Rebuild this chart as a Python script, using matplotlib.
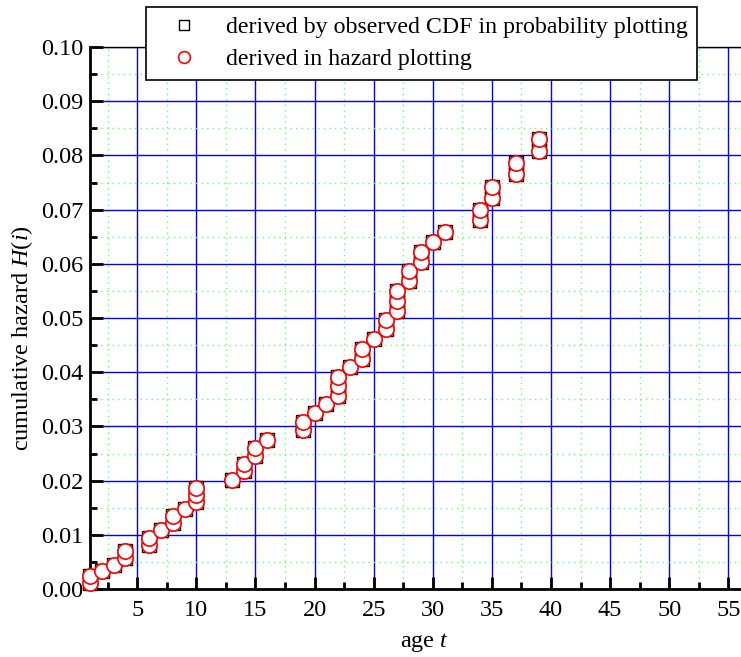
import matplotlib
matplotlib.use("Agg")
import matplotlib.pyplot as plt
from matplotlib.ticker import MultipleLocator, FormatStrFormatter

# age at failure (repeated ages = several failures at the same age)
age = [1, 1, 2, 3, 4, 4, 6, 6, 7, 8, 8, 9, 10, 10, 10, 13, 14, 14, 15, 15, 16,
       19, 19, 20, 21, 22, 22, 22, 23, 24, 24, 25, 26, 26, 27, 27, 27, 28, 28,
       29, 29, 30, 31, 34, 34, 35, 35, 37, 37, 39, 39]

# cumulative hazard from the observed CDF (probability plotting)
H_cdf = [0.0011, 0.0024, 0.0034, 0.0045, 0.0058, 0.0071, 0.0082, 0.0095,
         0.0108, 0.0121, 0.0135, 0.0148, 0.0160, 0.0173, 0.0187, 0.0202,
         0.0217, 0.0231, 0.0245, 0.0261, 0.0275, 0.0293, 0.0308, 0.0324,
         0.0341, 0.0357, 0.0374, 0.0392, 0.0409, 0.0425, 0.0443, 0.0461,
         0.0479, 0.0496, 0.0513, 0.0531, 0.0550, 0.0568, 0.0586, 0.0604,
         0.0622, 0.0641, 0.0659, 0.0681, 0.0700, 0.0721, 0.0741, 0.0765,
         0.0786, 0.0809, 0.0830]

# cumulative hazard from hazard plotting
H_haz = [0.0011, 0.0024, 0.0034, 0.0045, 0.0058, 0.0071, 0.0082, 0.0095,
         0.0108, 0.0121, 0.0135, 0.0148, 0.0160, 0.0173, 0.0187, 0.0202,
         0.0217, 0.0231, 0.0245, 0.0261, 0.0275, 0.0293, 0.0308, 0.0324,
         0.0341, 0.0357, 0.0374, 0.0392, 0.0409, 0.0425, 0.0443, 0.0461,
         0.0479, 0.0496, 0.0513, 0.0531, 0.0550, 0.0568, 0.0586, 0.0604,
         0.0622, 0.0641, 0.0659, 0.0681, 0.0700, 0.0721, 0.0741, 0.0765,
         0.0786, 0.0809, 0.0830]

label_cdf = "derived by observed CDF in probability plotting"
label_haz = "derived in hazard plotting"

plt.rcParams["font.family"] = ["Liberation Serif", "DejaVu Serif"]
plt.rcParams["mathtext.fontset"] = "custom"
plt.rcParams["mathtext.it"] = "Liberation Serif:italic"
plt.rcParams["mathtext.rm"] = "Liberation Serif"

W, H = 741, 657
fig = plt.figure(figsize=(W / 100, H / 100), dpi=100)

x0, x1 = 1.0, 56.6
px_per_unit = 11.82
left_px, bottom_px, top_px = 90, 589, 47
width_px = (x1 - x0) * px_per_unit
height_px = bottom_px - top_px
ax = fig.add_axes([left_px / W, (H - bottom_px) / H,
                   width_px / W, height_px / H])

ax.set_xlim(x0, x1)
ax.set_ylim(0, 0.10)

ax.xaxis.set_major_locator(MultipleLocator(5))
ax.xaxis.set_minor_locator(MultipleLocator(2.5))
ax.yaxis.set_major_locator(MultipleLocator(0.01))
ax.yaxis.set_minor_locator(MultipleLocator(0.005))
ax.yaxis.set_major_formatter(FormatStrFormatter("%.2f"))

ax.grid(which="major", color="#0000ff", linewidth=1.0, linestyle="-")
ax.grid(which="minor", color="#66ff66", linewidth=1.0, linestyle=(0, (1, 3)))
ax.set_axisbelow(True)

ax.tick_params(which="major", direction="in", length=9, width=2,
               labelsize=17.5, top=False, right=False)
ax.tick_params(axis="x", which="major", pad=8)
ax.tick_params(axis="y", which="major", pad=5)
ax.tick_params(which="minor", direction="in", length=5, width=2,
               top=False, right=False)

for side in ("left", "bottom"):
    ax.spines[side].set_linewidth(2)
ax.spines["top"].set_linewidth(1)
ax.spines["right"].set_visible(False)

ax.plot(age, H_cdf, linestyle="none", marker="s", markersize=9.5,
        markerfacecolor="white", markeredgecolor="black",
        markeredgewidth=1.0, label=label_cdf, clip_on=False, zorder=3)
ax.plot(age, H_haz, linestyle="none", marker="o", markersize=11,
        markerfacecolor="white", markeredgecolor="red",
        markeredgewidth=1.2, label=label_haz, clip_on=False, zorder=4)

ax.set_xlabel(r"age $\mathit{t}$", fontsize=17.5, va="center")
ax.set_ylabel(r"cumulative hazard $\mathit{H}(\mathit{i})$", fontsize=17.5,
              va="center")
ax.xaxis.set_label_coords((424 - left_px) / width_px,
                          (bottom_px - 642) / height_px)
ax.yaxis.set_label_coords((22 - left_px) / width_px,
                          (bottom_px - 338) / height_px)

# legend markers drawn at legend scale
h_cdf = plt.Line2D([], [], linestyle="none", marker="s", markersize=7,
                   markerfacecolor="white", markeredgecolor="black",
                   markeredgewidth=1.0)
h_haz = plt.Line2D([], [], linestyle="none", marker="o", markersize=8.5,
                   markerfacecolor="white", markeredgecolor="red",
                   markeredgewidth=1.2)
leg = fig.legend([h_cdf, h_haz], [label_cdf, label_haz],
                 loc="upper left", bbox_to_anchor=(146 / W, 1 - 7 / H),
                 fontsize=17.2, frameon=True, fancybox=False,
                 borderpad=0.4, labelspacing=0.42, handlelength=2.4,
                 handletextpad=0.55, borderaxespad=0)
leg.get_frame().set_edgecolor("black")
leg.get_frame().set_linewidth(1.2)
leg.get_frame().set_facecolor("white")
leg.get_frame().set_alpha(1)

fig.savefig("out.png", dpi=100)
